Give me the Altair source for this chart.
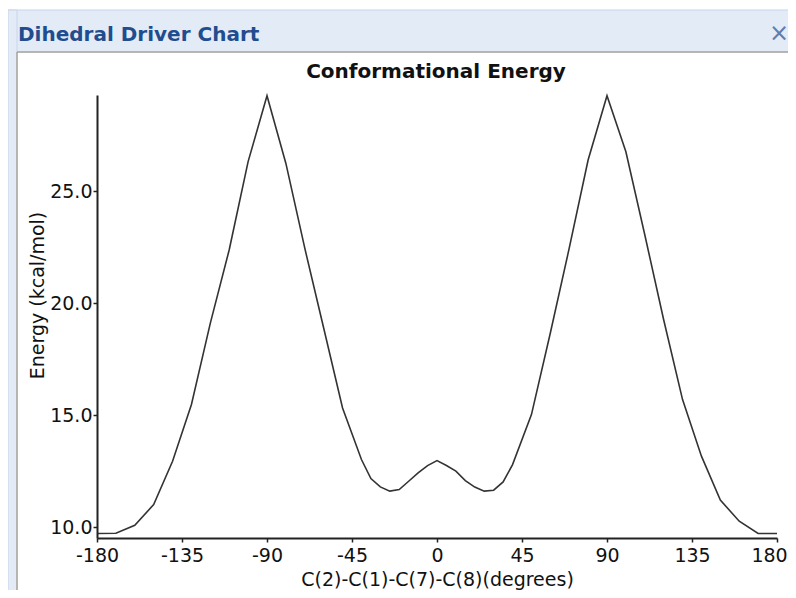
import altair as alt
import pandas as pd

# Dihedral angle (degrees) and conformational energy (kcal/mol)
angles = [-180, -170, -160, -150, -140, -130, -120, -110, -100, -90,
          -80, -70, -60, -50, -40, -35, -30, -25, -20, -15, -10, -5,
          0, 5, 10, 15, 20, 25, 30, 35, 40, 50, 60, 70, 80, 90,
          100, 110, 120, 130, 140, 150, 160, 170, 180]
energies = [9.73, 9.74, 10.10, 11.02, 12.95, 15.48, 19.11, 22.38, 26.31, 29.25,
            26.23, 22.45, 18.89, 15.33, 13.03, 12.18, 11.81, 11.62, 11.69, 12.06, 12.43, 12.76,
            12.98, 12.76, 12.51, 12.09, 11.80, 11.62, 11.66, 12.03, 12.80, 15.03, 18.67, 22.45, 26.38, 29.25,
            26.75, 23.05, 19.26, 15.70, 13.18, 11.22, 10.28, 9.73, 9.73]

x_ticks = [-180, -135, -90, -45, 0, 45, 90, 135, 180]
y_ticks = [10, 15, 20, 25]

window_title = "Dihedral Driver Chart"
chart_title = "Conformational Energy"
x_title = "C(2)-C(1)-C(7)-C(8)(degrees)"
y_title = "Energy (kcal/mol)"

df = pd.DataFrame({"angle": angles, "energy": energies})
one = pd.DataFrame({"k": [0]})

FONT = "DejaVu Sans"
CHROME = "#e3ebf6"
CHROME_EDGE = "#c6d5ea"
BORDER = "#a9a69c"

# window chrome (decoration only)
titlebar = alt.Chart(one).mark_rect(fill=CHROME, stroke=CHROME_EDGE, strokeWidth=1).encode(
    x=alt.value(-89), x2=alt.value(700), y=alt.value(-85), y2=alt.value(-43))
leftstrip = alt.Chart(one).mark_rect(fill=CHROME, stroke=CHROME_EDGE, strokeWidth=1).encode(
    x=alt.value(-89), x2=alt.value(-80), y=alt.value(-85), y2=alt.value(520))
border_h = alt.Chart(one).mark_rule(color=BORDER, strokeWidth=1.5).encode(
    x=alt.value(-80), x2=alt.value(700), y=alt.value(-43))
border_v = alt.Chart(one).mark_rule(color=BORDER, strokeWidth=1.5).encode(
    x=alt.value(-80), y=alt.value(-43), y2=alt.value(520))
wtitle = alt.Chart(one).mark_text(text=window_title, font=FONT, fontSize=20, fontWeight="bold",
                                  color="#1f4d8f", align="left", baseline="alphabetic").encode(
    x=alt.value(-79), y=alt.value(-54))
closex = alt.Chart(one).mark_text(text="\u00d7", font=FONT, fontSize=24, color="#5b7fb5",
                                  align="center", baseline="middle").encode(
    x=alt.value(682), y=alt.value(-61))
ctitle = alt.Chart(one).mark_text(text=chart_title, font=FONT, fontSize=20, fontWeight="bold",
                                  color="#111111", align="center", baseline="alphabetic").encode(
    x=alt.value(339), y=alt.value(-17))

line = alt.Chart(df).mark_line(color="#333333", strokeWidth=1.6, interpolate="linear").encode(
    x=alt.X("angle:Q", scale=alt.Scale(domain=[-180, 180], nice=False, zero=False),
            axis=alt.Axis(values=x_ticks, title=x_title, labelFlush=False, labelPadding=4,
                          labelExpr="'' + datum.value",
                          labelOffset=alt.condition("datum.value == 180", alt.value(-8), alt.value(0)),
                          titlePadding=5, zindex=1)),
    y=alt.Y("energy:Q", scale=alt.Scale(domain=[9.53, 29.28], nice=False, zero=False),
            axis=alt.Axis(values=y_ticks, format=".1f", title=y_title, labelPadding=1,
                          titlePadding=2, titleY=200, zindex=1)),
)

chart = alt.layer(titlebar, leftstrip, border_h, border_v, wtitle, closex, ctitle, line).properties(
    width=680, height=443,
    autosize=alt.AutoSizeParams(type="none"),
    padding={"left": 89, "top": 87, "right": 11, "bottom": 52},
).configure_view(stroke=None).configure_axis(
    grid=False,
    labelFont=FONT, labelFontSize=19, labelColor="#111111",
    titleFont=FONT, titleFontSize=19, titleFontWeight="normal", titleColor="#111111",
    domainColor="#222222", domainWidth=2, tickColor="#222222", tickSize=4, tickWidth=1.5,
)

chart.save("out.html", embed_options={"renderer": "svg", "actions": False})
